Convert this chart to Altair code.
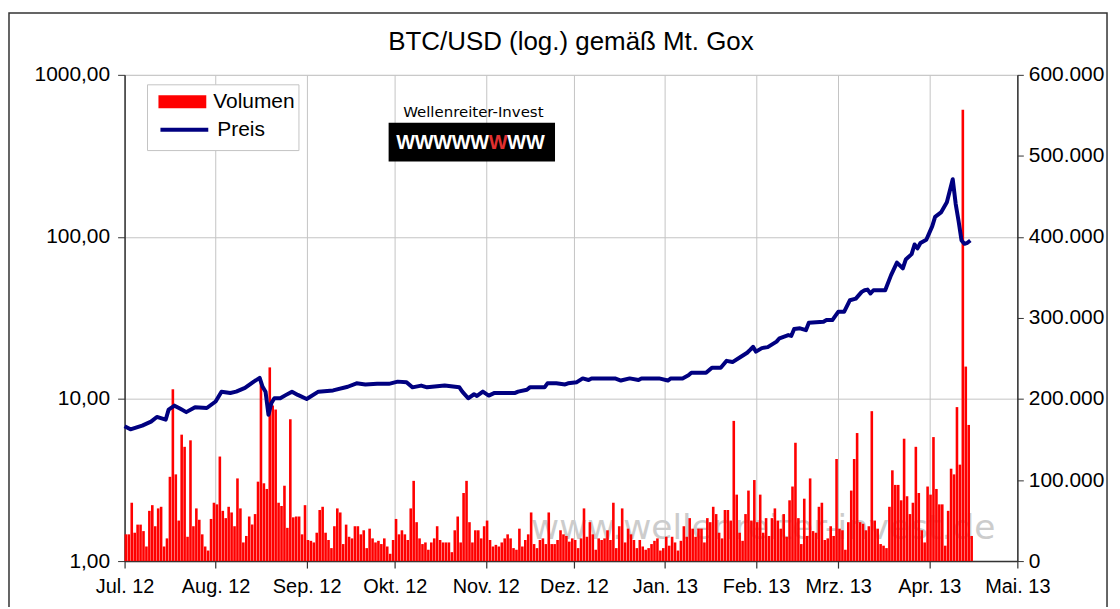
import altair as alt
import pandas as pd

# ---------------- data ----------------
START = "2012-07-01"
# daily Mt. Gox volume (thousands of BTC), Jul 1 2012 .. Apr 15 2013
vol_jul_aug = [33,33,72,35,45,45,37,18,62,69,43,65,67,18,28,104,212,107,50,156,
               141,30,149,43,65,51,33,18,13,52,72,70,129,62,53,67,60,43,102,65,
               23,31,55,45,58,98,222,96,89,239,192,187,72,68,93,41,175,54,55]
vol_sep_oct = [55,33,69,26,25,23,35,63,67,35,26,16,43,65,60,21,45,30,28,43,
               43,33,38,16,40,28,23,25,21,28,18,9,26,52,33,38,33,26,65,99,
               48,28,21,23,14,23,28,43,26,23,23,23,11,38,55,23,84,99,48,23,38]
vol_nov_dec = [38,28,43,50,26,18,20,18,23,28,33,28,16,14,40,18,26,33,60,21,
               16,26,28,21,60,21,21,26,38,33,31,24,28,26,16,28,65,30,48,33,
               14,28,26,28,38,26,72,16,43,65,23,40,33,26,16,26,18,14,16,21]
vol_jan_feb = [25,28,13,16,30,19,30,23,13,25,43,30,53,40,30,40,40,23,53,48,
               67,58,35,28,63,63,50,173,82,35,25,58,87,50,100,48,82,35,53,31,
               53,65,50,40,58,30,75,92,146,53,21,77,31,102,37,35,67,72,26,28]
vol_mar_apr = [43,31,126,40,38,14,48,87,126,158,48,46,38,43,185,50,40,21,19,16,
               67,112,94,94,75,151,80,58,72,141,84,38,23,92,82,153,89,70,70,19,
               62,114,107,190,119,557,240,168,31]
volume_k = vol_jul_aug + vol_sep_oct + vol_nov_dec + vol_jan_feb + vol_mar_apr

# price (USD), day offset from Jul 1 2012
price_days = [0,2,6,9,11,14,15,17,19,21,
              24,28,31,33,36,38,41,44,46,47,
              48,49,50,51,53,55,57,59,62,66,
              71,76,79,82,86,90,93,96,98,101,
              103,109,114,115,117,119,120,122,124,126,
              133,134,137,138,143,144,147,150,151,154,
              156,158,159,167,169,172,175,176,182,185,
              186,190,192,193,198,200,203,205,207,210,
              212,213,214,215,217,219,222,223,226,227,
              228,230,232,233,238,239,241,243,245,247,
              249,251,252,253,254,255,259,261,263,265,
              266,268,269,270,271,273,275,276,278,280,
              282,283,284,285,286,287,288]
price_values = [6.8,6.5,6.85,7.25,7.75,7.45,8.6,9.1,8.7,8.3,
                8.9,8.8,9.65,11.1,10.9,11.1,11.7,12.8,13.5,11.9,
                11.1,8.0,9.45,10.1,10.1,10.6,11.1,10.6,10.0,11.1,
                11.3,11.9,12.5,12.3,12.4,12.4,12.8,12.7,11.8,12.1,
                11.8,12.1,11.8,11.1,10.1,10.7,10.45,11.1,10.5,10.9,
                10.9,11.1,11.4,11.8,11.8,12.5,12.5,12.3,12.5,12.7,
                13.4,13.1,13.4,13.4,13.0,13.4,13.1,13.4,13.4,13.0,
                13.4,13.4,14.0,14.5,14.5,15.6,15.6,17.2,16.9,18.3,
                19.3,20.1,21.0,19.6,20.6,20.9,22.6,23.7,24.8,24.5,
                27.0,27.3,26.6,29.5,30.0,30.7,30.7,34.5,34.5,40.7,
                41.6,45.8,46.9,47.3,44.8,46.9,46.9,58.1,69.4,63.9,
                72.5,78.3,89.8,85,91.8,96.1,116.2,132.8,141.6,163.5,
                227,160,125,95,90.7,92,95]

series_names = ["Volumen", "Preis"]
series_colors = ["#ff0000", "#000080"]
month_labels = ["Jan.", "Feb.", "Mrz.", "Apr.", "Mai.", "Jun.",
                "Jul.", "Aug.", "Sep.", "Okt.", "Nov.", "Dez."]
month_ticks = [(2012, m) for m in range(7, 13)] + [(2013, m) for m in range(1, 6)]
left_ticks = [1, 10, 100, 1000]
right_ticks = [0, 100000, 200000, 300000, 400000, 500000, 600000]
title_text = "BTC/USD (log.) gemäß  Mt. Gox"
watermark_text = "www.wellenreiter-invest.de"
logo_caption_text = "Wellenreiter-Invest"
logo_letters = ["W", "W", "W", "W", "W", "W", "W", "W"]
logo_colors = ["#ffffff"] * 5 + ["#e03030"] + ["#ffffff"] * 2

# ---------------- tables ----------------
start = pd.Timestamp(START)
vol_df = pd.DataFrame({
    "start": [start + pd.Timedelta(days=i) for i in range(len(volume_k))],
    "end": [start + pd.Timedelta(days=i + 1) for i in range(len(volume_k))],
    "volume": [v * 1000 for v in volume_k],
    "series": series_names[0],
})
price_df = pd.DataFrame({
    "date": [start + pd.Timedelta(days=d) for d in price_days],
    "price": price_values,
    "series": series_names[1],
})
one = pd.DataFrame({"a": [0]})

W, H = 896, 488
FONT = "Liberation Sans"
AX = "#333333"
GRID = "#c4c4c4"

xscale = alt.Scale(domain=[alt.DateTime(year=2012, month=7, date=1),
                           alt.DateTime(year=2013, month=5, date=1)], nice=False)
months_js = "[" + ",".join("'%s'" % m for m in month_labels) + "]"
xaxis = alt.Axis(
    values=[alt.DateTime(year=y, month=m, date=1) for (y, m) in month_ticks],
    labelExpr=months_js + "[month(datum.value)] + ' ' + timeFormat(datum.value, '%y')",
    title=None, grid=True, gridColor=GRID, gridWidth=1,
    tickSize=7, tickColor=AX, domainColor=AX, domainWidth=1.5, tickWidth=1.2,
    labelFont=FONT, labelFontSize=20, labelColor="#000000", labelPadding=9,
    labelOverlap=False, labelFlush=False,
)

legend_common = dict(
    title=None, orient="none", direction="vertical", padding=0,
    labelFont=FONT, labelFontSize=21, labelColor="#000000",
    symbolSize=2304, labelOffset=7,
)
fill_legend = alt.Legend(legendX=34, legendY=3, symbolType="M-1,-0.27H1V0.27H-1Z",
                         symbolStrokeWidth=0, **legend_common)
stroke_legend = alt.Legend(legendX=34, legendY=29, symbolType="stroke",
                           symbolStrokeWidth=4, **legend_common)

title_mark = alt.Chart(one).mark_text(
    text=title_text, font=FONT, fontSize=26, color="#000000",
    align="center", baseline="alphabetic",
).encode(x=alt.value(W / 2), y=alt.value(-25))

watermark = alt.Chart(one).mark_text(
    text=watermark_text, font="DejaVu Sans", fontSize=34.5, color="#cccccc",
    align="center", baseline="alphabetic",
).encode(x=alt.value(641), y=alt.value(466))

legend_box = alt.Chart(one).mark_rect(fill="#ffffff", stroke="#c4c4c4", strokeWidth=1).encode(
    x=alt.value(23), x2=alt.value(175), y=alt.value(10), y2=alt.value(76))

bars = alt.Chart(vol_df).mark_bar(x2Offset=-0.35).encode(
    x=alt.X("start:T", scale=xscale, axis=xaxis),
    x2="end:T",
    y=alt.Y("volume:Q", scale=alt.Scale(domain=[0, 600000], nice=False),
            axis=alt.Axis(orient="right", values=right_ticks, title=None, grid=False,
                          labelExpr="replace(format(datum.value, ','), ',', '.')",
                          tickSize=6, tickColor=AX, domainColor=AX, domainWidth=1.5,
                          labelFont=FONT, labelFontSize=21, labelColor="#000000",
                          labelPadding=5)),
    y2=alt.datum(0),
    fill=alt.Fill("series:N", scale=alt.Scale(domain=[series_names[0]], range=[series_colors[0]]),
                  legend=fill_legend),
)

line = alt.Chart(price_df).mark_line(strokeWidth=4, strokeJoin="round").encode(
    x=alt.X("date:T", scale=xscale, axis=xaxis),
    y=alt.Y("price:Q", scale=alt.Scale(type="log", domain=[1, 1000], nice=False),
            axis=alt.Axis(orient="left", values=left_ticks, title=None, grid=True,
                          gridColor=GRID, gridWidth=1,
                          labelExpr="replace(format(datum.value, '.2f'), '.', ',')",
                          tickSize=7, tickColor=AX, domainColor=AX, domainWidth=1.5,
                          labelFont=FONT, labelFontSize=21, labelColor="#000000",
                          labelPadding=8)),
    stroke=alt.Stroke("series:N", scale=alt.Scale(domain=[series_names[1]], range=[series_colors[1]]),
                      legend=stroke_legend),
)

# logo
logo_caption = alt.Chart(one).mark_text(
    text=logo_caption_text, font="DejaVu Sans", fontSize=15, color="#000000",
    align="center", baseline="alphabetic",
).encode(x=alt.value(350), y=alt.value(42))
logo_box = alt.Chart(one).mark_rect(color="#000000").encode(
    x=alt.value(265), x2=alt.value(432), y=alt.value(48), y2=alt.value(87))
LOGO_W = 18.6
logo_marks = [
    alt.Chart(one).mark_text(
        text=ch, font=FONT, fontWeight="bold", fontSize=20, color=col,
        align="center", baseline="middle",
    ).encode(x=alt.value(282 + i * LOGO_W), y=alt.value(68))
    for i, (ch, col) in enumerate(zip(logo_letters, logo_colors))
]

frame = alt.Chart(one).mark_rect(fill=None, stroke="#333333", strokeWidth=1.5).encode(
    x=alt.value(-116), x2=alt.value(986), y=alt.value(-62), y2=alt.value(560))

chart = alt.layer(
    frame, title_mark, watermark, legend_box, bars, line, logo_caption, logo_box, *logo_marks
).resolve_scale(y="independent").properties(
    width=W, height=H,
    autosize=alt.AutoSizeParams(type="none"),
    padding={"left": 117, "top": 66, "right": 95, "bottom": 45},
).configure_view(stroke=None).configure(background="#ffffff")

chart.save("out.html", embed_options={"renderer": "svg", "actions": False})
